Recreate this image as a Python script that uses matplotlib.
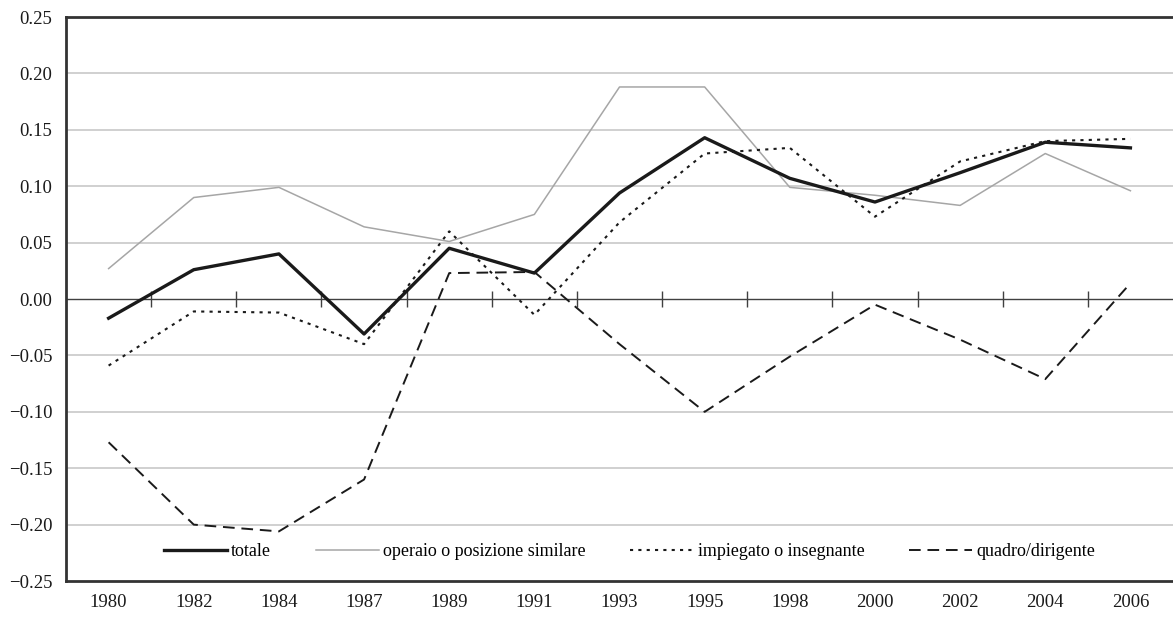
import matplotlib
matplotlib.use("Agg")
import matplotlib.pyplot as plt
import numpy as np

plt.rcParams['font.family'] = ['Liberation Serif', 'DejaVu Serif']

# Data
years = ['1980', '1982', '1984', '1987', '1989', '1991', '1993',
         '1995', '1998', '2000', '2002', '2004', '2006']
totale = [-0.017, 0.026, 0.040, -0.031, 0.045, 0.023, 0.094,
          0.143, 0.107, 0.086, 0.112, 0.139, 0.134]
operaio = [0.027, 0.090, 0.099, 0.064, 0.051, 0.075, 0.188,
           0.188, 0.099, 0.092, 0.083, 0.129, 0.096]
impiegato = [-0.059, -0.011, -0.012, -0.040, 0.060, -0.014, 0.068,
             0.129, 0.134, 0.073, 0.122, 0.140, 0.142]
quadro = [-0.127, -0.200, -0.206, -0.160, 0.023, 0.024, -0.040,
          -0.100, -0.051, -0.005, -0.036, -0.071, 0.014]
yticks = [-0.25, -0.20, -0.15, -0.10, -0.05, 0.00, 0.05, 0.10, 0.15, 0.20, 0.25]

x = np.arange(len(years))

fig = plt.figure(figsize=(11.73, 6.17), dpi=100)
ax = fig.add_axes([0.0563, 0.0583, 0.9437, 0.9141])

# grid lines
for v in yticks:
    if v not in (0.0, -0.25, 0.25):
        ax.axhline(v, color='#c8c8c8', lw=1.2, zorder=0)

# zero line with category boundary ticks
ax.axhline(0, color='#404040', lw=1.0, zorder=1)
ax.plot(x[:-1] + 0.5, np.zeros(len(x) - 1), linestyle='None', marker='|',
        markersize=12, markeredgewidth=1.0, color='#404040', zorder=1)

ax.plot(x, totale, color='#1a1a1a', lw=2.4, label='totale', zorder=4)
ax.plot(x, operaio, color='#a6a6a6', lw=1.1, label='operaio o posizione similare', zorder=3)
ax.plot(x, impiegato, color='#1a1a1a', lw=1.5, dashes=(1.5, 2.5),
        label='impiegato o insegnante', zorder=3)
ax.plot(x, quadro, color='#1a1a1a', lw=1.4, dashes=(6, 3.5),
        label='quadro/dirigente', zorder=3)

ax.set_xlim(-0.5, len(years) - 0.5)
ax.set_ylim(-0.25, 0.25)
ax.set_yticks(yticks)
ax.set_yticklabels([f"{v:.2f}".replace('-', '\u2212') for v in yticks])
ax.set_xticks(x)
ax.set_xticklabels(years)
ax.tick_params(axis='both', length=0, labelsize=13.5, colors='#1a1a1a')
ax.tick_params(axis='x', pad=9)
ax.tick_params(axis='y', pad=10)

for side in ('left', 'top', 'bottom'):
    ax.spines[side].set_color('#333333')
    ax.spines[side].set_linewidth(2.0)
ax.spines['right'].set_visible(False)

ax.legend(loc='center', bbox_to_anchor=(0.509, 0.052), ncol=4, frameon=False,
          fontsize=13, handlelength=3.5, handletextpad=0.25, columnspacing=2.45)

fig.savefig('out.png', dpi=100)
